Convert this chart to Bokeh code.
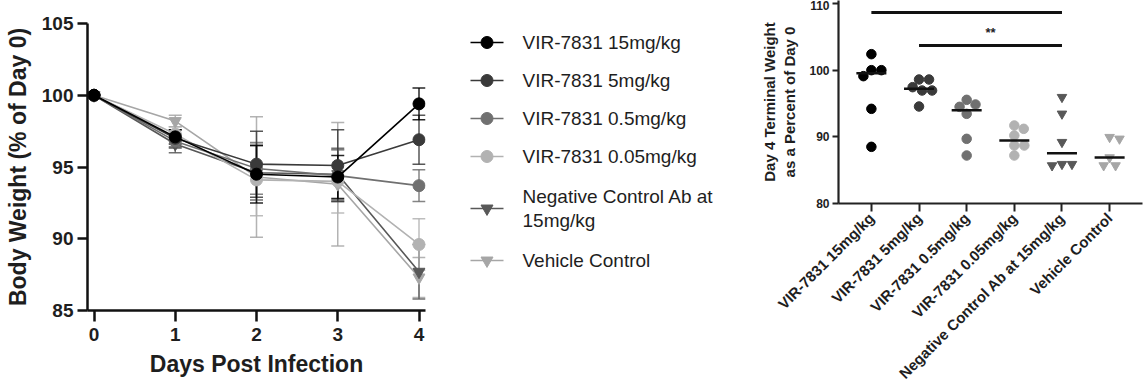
import math
import numpy as np
from bokeh.plotting import figure
from bokeh.models import Range1d, FixedTicker, Whisker, TeeHead, ColumnDataSource
from bokeh.core.properties import value
from bokeh.embed import file_html
from bokeh.resources import INLINE

FONT = "Liberation Sans"
TXT = "#1e1e1e"

# ---------------- data ----------------
days = [0, 1, 2, 3, 4]
day_ticks = [0, 1, 2, 3, 4]
bw_ticks = [85, 90, 95, 100, 105]

groups = ["VIR-7831 15mg/kg", "VIR-7831 5mg/kg", "VIR-7831 0.5mg/kg",
          "VIR-7831 0.05mg/kg", "Negative Control Ab at 15mg/kg", "Vehicle Control"]
legend_labels = ["VIR-7831 15mg/kg", "VIR-7831 5mg/kg", "VIR-7831 0.5mg/kg",
                 "VIR-7831 0.05mg/kg", "Negative Control Ab at\n15mg/kg", "Vehicle Control"]
group_colors = ["#000000", "#3a3a3a", "#707070", "#b2b2b2", "#585858", "#a6a6a6"]
group_markers = ["circle", "circle", "circle", "circle", "inverted_triangle", "inverted_triangle"]

mean_15 = [100, 97.1, 94.5, 94.3, 99.4]
mean_5 = [100, 97.0, 95.2, 95.1, 96.9]
mean_05 = [100, 96.8, 94.9, 94.4, 93.7]
mean_005 = [100, 97.3, 94.1, 94.0, 89.6]
mean_neg = [100, 96.6, 94.6, 94.5, 87.7]
mean_veh = [100, 98.2, 94.3, 93.8, 87.3]
means = [mean_15, mean_5, mean_05, mean_005, mean_neg, mean_veh]

err_15 = [0, 0.5, 2.0, 1.5, 1.1]
err_5 = [0, 0.6, 2.3, 2.5, 1.7]
err_05 = [0, 0.5, 1.8, 1.8, 1.1]
err_005 = [0, 0.5, 2.5, 2.2, 1.8]
err_neg = [0, 0.6, 1.9, 1.8, 1.9]
err_veh = [0, 0.4, 4.2, 4.3, 1.4]
errs = [err_15, err_5, err_05, err_005, err_neg, err_veh]

# Day 4 terminal weights (individual animals)
d4_15 = [102.4, 100.0, 100.0, 99.1, 94.2, 88.5]
d4_5 = [98.6, 98.6, 97.45, 96.95, 96.95, 94.55]
d4_05 = [95.55, 94.85, 94.5, 93.45, 89.7, 87.2]
d4_005 = [91.7, 91.2, 90.2, 88.7, 88.7, 87.2]
d4_neg = [95.95, 93.45, 89.2, 85.9, 85.9, 85.7]
d4_veh = [89.95, 89.7, 86.9, 85.7, 85.7]
d4 = [d4_15, d4_5, d4_05, d4_005, d4_neg, d4_veh]
d4_ticks = [80, 90, 100, 110]

sig_pairs = [(0, 4), (1, 4)]
sig_levels = [108.65, 103.7]
sig_labels = ["*", "**"]

# ---------------- left: time course ----------------
W1, H1 = 450, 390
xpad = 0.08
p1 = figure(width=W1, height=H1, output_backend="svg", toolbar_location=None,
            x_range=Range1d(min(day_ticks) - xpad, max(day_ticks) + xpad),
            y_range=Range1d(min(bw_ticks), max(bw_ticks)),
            min_border_left=87, min_border_right=25, min_border_top=23, min_border_bottom=80)
p1.outline_line_color = None
p1.grid.visible = False

for ax in (p1.xaxis[0], p1.yaxis[0]):
    ax.axis_line_color = "#111111"
    ax.axis_line_width = 2.5
    ax.major_tick_line_color = "#111111"
    ax.major_tick_line_width = 2.5
    ax.major_tick_in = 0
    ax.minor_tick_line_color = None
    ax.major_label_text_font = FONT
    ax.major_label_text_font_style = "bold"
    ax.major_label_text_font_size = "19px"
    ax.major_label_text_color = TXT
    ax.axis_label_text_font = FONT
    ax.axis_label_text_font_style = "bold"
    ax.axis_label_text_font_size = "23px"
    ax.axis_label_text_color = TXT

p1.xaxis.ticker = FixedTicker(ticks=day_ticks)
p1.yaxis.ticker = FixedTicker(ticks=bw_ticks)
p1.xaxis.major_tick_out = 11
p1.yaxis.major_tick_out = 10
p1.xaxis.major_label_standoff = 6
p1.yaxis.major_label_standoff = 4
p1.xaxis.axis_label = "Days Post Infection"
p1.yaxis.axis_label = "Body Weight (% of Day 0)"
p1.xaxis.axis_label_standoff = 7
p1.yaxis.axis_label_standoff = 8

order = list(range(len(groups)))[::-1]
for gi in order:
    col = group_colors[gi]
    m = np.array(means[gi])
    e = np.array(errs[gi])
    src = ColumnDataSource(dict(x=days, y=list(m), up=list(m + e), lo=list(m - e)))
    wk = Whisker(base="x", upper="up", lower="lo", source=src, dimension="height",
                 line_color=col, line_width=1.5, line_alpha=0.85, level="underlay",
                 upper_head=TeeHead(size=13, line_color=col, line_width=1.5, line_alpha=0.85),
                 lower_head=TeeHead(size=13, line_color=col, line_width=1.5, line_alpha=0.85))
    p1.add_layout(wk)
    p1.line("x", "y", source=src, line_color=col, line_width=1.6)
    p1.scatter("x", "y", source=src, marker=group_markers[gi], size=12,
               fill_color=col, line_color=col)

# ---------------- middle: legend ----------------
W2, H2 = 300, 390
p2 = figure(width=W2, height=H2, output_backend="svg", toolbar_location=None,
            x_range=Range1d(0, W2), y_range=Range1d(H2, 0),
            x_axis_type=None, y_axis_type=None, min_border=0)
p2.outline_line_color = None
p2.grid.visible = False

row_pitch = 38
line_h = 22
y_cur = 42
leg_x0, leg_x1, txt_x = 20, 53, 72
for gi, lab in enumerate(legend_labels):
    nl = lab.count("\n")
    if gi > 0:
        prev_nl = legend_labels[gi - 1].count("\n")
        y_cur += row_pitch + (prev_nl + nl) * line_h / 2 + (3 if (prev_nl or nl) else 0)
    col = group_colors[gi]
    p2.line([leg_x0, leg_x1], [y_cur, y_cur], line_color=col, line_width=1.6)
    p2.scatter([(leg_x0 + leg_x1) / 2], [y_cur], marker=group_markers[gi], size=12,
               fill_color=col, line_color=col)
    p2.text([txt_x], [y_cur], text=[lab], text_font=value(FONT), text_font_size="19px",
            text_color=TXT, text_baseline="middle", text_align="left", text_line_height=1.15)

# ---------------- right: day 4 terminal weight ----------------
W3, H3 = 394, 390
x_lo, x_hi = -0.69, 5.69
y_lo, y_hi = 80, 110.45
bl, br, bt, bb = 88, 2, 0, 186
p3 = figure(width=W3, height=H3, output_backend="svg", toolbar_location=None,
            x_range=Range1d(x_lo, x_hi), y_range=Range1d(y_lo, y_hi),
            min_border_left=bl, min_border_right=br, min_border_top=bt, min_border_bottom=bb)
p3.outline_line_color = None
p3.grid.visible = False

for ax in (p3.xaxis[0], p3.yaxis[0]):
    ax.axis_line_color = "#222222"
    ax.axis_line_width = 2.2
    ax.major_tick_line_color = "#222222"
    ax.major_tick_line_width = 2
    ax.major_tick_in = 0
    ax.major_tick_out = 6
    ax.minor_tick_line_color = None
    ax.major_label_text_font = FONT
    ax.major_label_text_font_style = "bold"
    ax.major_label_text_color = TXT
    ax.axis_label_text_font = FONT
    ax.axis_label_text_font_style = "bold"
    ax.axis_label_text_color = TXT

p3.yaxis.ticker = FixedTicker(ticks=d4_ticks)
p3.yaxis.major_label_text_font_size = "12px"
p3.yaxis.major_label_standoff = 3
p3.yaxis.axis_label = "Day 4 Terminal Weight\nas a Percent of Day 0"
p3.yaxis.axis_label_text_font_size = "15px"
p3.yaxis.axis_label_standoff = 8

p3.xaxis.ticker = FixedTicker(ticks=list(range(len(groups))))
p3.xaxis.major_label_overrides = {i: g for i, g in enumerate(groups)}
p3.xaxis.major_label_orientation = math.pi / 4
p3.xaxis.major_label_text_font_size = "15px"
p3.xaxis.major_tick_out = 8
p3.xaxis.major_label_standoff = 4

# beeswarm placement (pixel-based, non-overlapping)
fw = W3 - bl - br
fh = H3 - bt - bb
sx = fw / (x_hi - x_lo)
sy = fh / (y_hi - y_lo)
DIAM = 10.0


def swarm(vals):
    vals = np.asarray(vals, float)
    idx = np.argsort(-vals, kind="stable")
    placed = []
    out = np.zeros(len(vals))
    for i in idx:
        y = vals[i] * sy
        cands = [0.0]
        for xj, yj in placed:
            dy = abs(y - yj)
            if dy < DIAM:
                dx = math.sqrt(DIAM * DIAM - dy * dy)
                cands += [xj + dx, xj - dx]
        cands.sort(key=abs)
        chosen = 0.0
        for c in cands:
            if all((c - xj) ** 2 + (y - yj) ** 2 >= DIAM * DIAM - 1e-6 for xj, yj in placed):
                chosen = c
                break
        placed.append((chosen, y))
        out[i] = chosen / sx
    return out


half_med = 15 / sx
for gi, vals in enumerate(d4):
    offs = swarm(vals)
    xs = [gi + o for o in offs]
    p3.scatter(xs, vals, marker=group_markers[gi], size=9.5,
               fill_color=group_colors[gi], line_color=group_colors[gi])
    med = float(np.median(vals))
    p3.segment(x0=[gi - half_med], x1=[gi + half_med], y0=[med], y1=[med],
               line_color="#111111", line_width=2.5)

for (a, b), lvl, lab in zip(sig_pairs, sig_levels, sig_labels):
    p3.segment(x0=[a], x1=[b], y0=[lvl], y1=[lvl], line_color="#111111", line_width=3)
    p3.text([(a + b) / 2], [lvl + 2.0], text=[lab], text_font=value(FONT),
            text_font_size="13px", text_font_style="bold", text_color=TXT,
            text_align="center", text_baseline="middle")

# three independent roots laid out side by side (no frame alignment between them)
TEMPLATE = """
{% block postamble %}
<style>
html, body { margin: 0 !important; padding: 0 !important; }
body { display: flex !important; flex-direction: row !important; align-items: flex-start !important; }
body > div > * { flex: 0 0 auto !important; }
</style>
{% endblock %}
"""

open("out.html", "w").write(file_html([p1, p2, p3], INLINE, template=TEMPLATE))
